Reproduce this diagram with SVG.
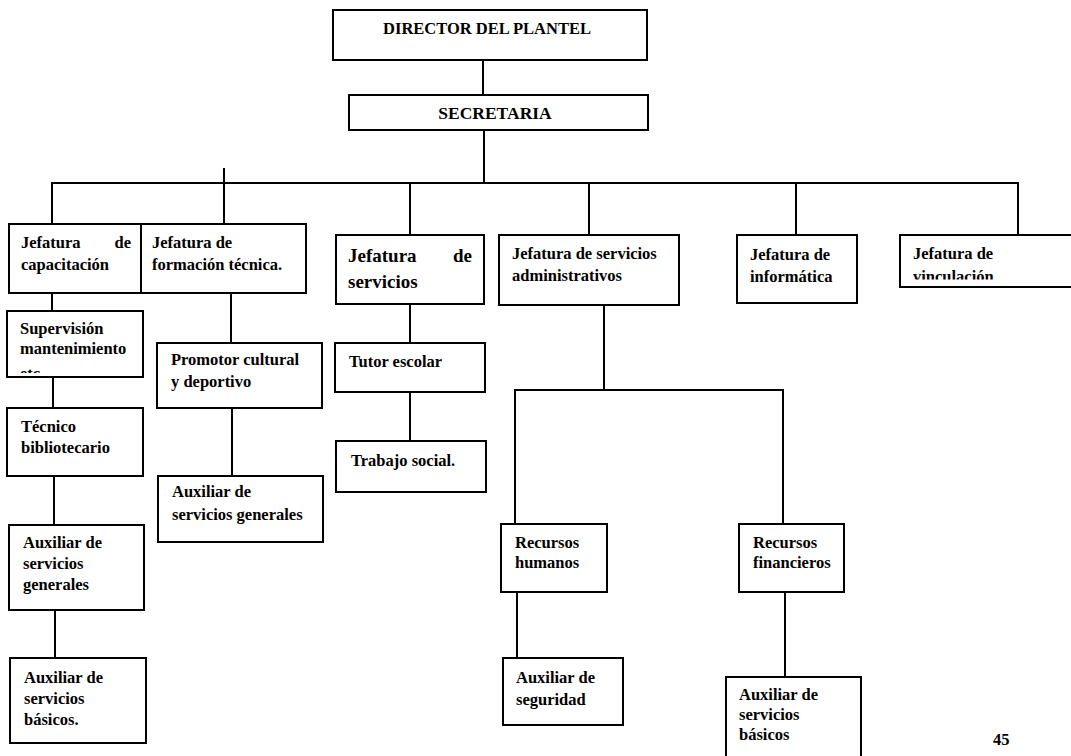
<svg xmlns="http://www.w3.org/2000/svg" width="1071" height="756" viewBox="0 0 1071 756">
<style>
.box{fill:#fff;stroke:#000;stroke-width:2}
.t{font-family:"Liberation Serif","Times New Roman",serif;font-weight:bold;font-size:16.5px;fill:#000}
.big{font-size:19px}
.title{font-size:16.5px}
.c line{stroke:#000;stroke-width:2;fill:none}
</style>
<defs>
<clipPath id="clipSup"><rect x="7" y="311" width="136" height="62"/></clipPath>
<clipPath id="clipVin"><rect x="900" y="235" width="171" height="44.5"/></clipPath>
</defs>
<rect width="1071" height="756" fill="#fff"/>
<g class="c" id="connectors">
<line x1="483" y1="60" x2="483" y2="95"/>
<line x1="484" y1="130" x2="484" y2="183"/>
<line x1="51" y1="183" x2="1019" y2="183"/>
<line x1="224" y1="168" x2="224" y2="224"/>
<line x1="52" y1="183" x2="52" y2="224"/>
<line x1="410" y1="183" x2="410" y2="235"/>
<line x1="589" y1="183" x2="589" y2="235"/>
<line x1="796" y1="183" x2="796" y2="235"/>
<line x1="1018" y1="183" x2="1018" y2="235"/>
<line x1="52" y1="293" x2="52" y2="311"/>
<line x1="53" y1="377" x2="53" y2="408"/>
<line x1="54" y1="476" x2="54" y2="525"/>
<line x1="55" y1="610" x2="55" y2="658"/>
<line x1="231" y1="293" x2="231" y2="343"/>
<line x1="232" y1="408" x2="232" y2="476"/>
<line x1="410" y1="304" x2="410" y2="343"/>
<line x1="410" y1="392" x2="410" y2="441"/>
<line x1="604" y1="305" x2="604" y2="390"/>
<line x1="514" y1="390" x2="784" y2="390"/>
<line x1="515" y1="390" x2="515" y2="524"/>
<line x1="783" y1="390" x2="783" y2="524"/>
<line x1="517" y1="592" x2="517" y2="658"/>
<line x1="785" y1="592" x2="785" y2="677"/>
</g>
<g id="director">
<rect class="box" x="333" y="10" width="314" height="50"/>
<text class="t title" x="487" y="34" text-anchor="middle">DIRECTOR DEL PLANTEL</text>
</g>
<g id="secretaria">
<rect class="box" x="349" y="95" width="299" height="35"/>
<text class="t title" x="495" y="119" text-anchor="middle" style="font-size:17.5px">SECRETARIA</text>
</g>
<g id="jef-capacitacion">
<rect class="box" x="9" y="224" width="132" height="69"/>
<text class="t" x="21" y="248">Jefatura</text>
<text class="t" x="131" y="248" text-anchor="end">de</text>
<text class="t" x="21" y="270">capacitación</text>
</g>
<g id="jef-formacion">
<rect class="box" x="141" y="224" width="165" height="69"/>
<text class="t" x="152" y="248">Jefatura de</text>
<text class="t" x="152" y="270">formación técnica.</text>
</g>
<g id="jef-servicios">
<rect class="box" x="336" y="235" width="148" height="69"/>
<text class="t big" x="348" y="262">Jefatura</text>
<text class="t big" x="472" y="262" text-anchor="end">de</text>
<text class="t big" x="348" y="288">servicios</text>
</g>
<g id="jef-admin">
<rect class="box" x="499" y="235" width="180" height="70"/>
<text class="t" x="512" y="259">Jefatura de servicios</text>
<text class="t" x="512" y="281">administrativos</text>
</g>
<g id="jef-informatica">
<rect class="box" x="737" y="235" width="120" height="68"/>
<text class="t" x="750" y="260">Jefatura de</text>
<text class="t" x="750" y="282">informática</text>
</g>
<g id="jef-vinculacion">
<rect class="box" x="900" y="235" width="180" height="52"/>
<text class="t" x="913" y="259">Jefatura de</text>
<text class="t" x="913" y="282" clip-path="url(#clipVin)">vinculación</text>
</g>
<g id="supervision">
<rect class="box" x="7" y="311" width="136" height="66"/>
<text class="t" x="20" y="334">Supervisión</text>
<text class="t" x="20" y="354">mantenimiento</text>
<text class="t" x="20" y="379" clip-path="url(#clipSup)">etc.</text>
</g>
<g id="tecnico">
<rect class="box" x="7" y="408" width="136" height="68"/>
<text class="t" x="21" y="432">Técnico</text>
<text class="t" x="21" y="453">bibliotecario</text>
</g>
<g id="aux-generales-1">
<rect class="box" x="9" y="525" width="135" height="85"/>
<text class="t" x="23" y="548">Auxiliar de</text>
<text class="t" x="23" y="569">servicios</text>
<text class="t" x="23" y="590">generales</text>
</g>
<g id="aux-basicos-1">
<rect class="box" x="10" y="658" width="136" height="85"/>
<text class="t" x="24" y="683">Auxiliar de</text>
<text class="t" x="24" y="704">servicios</text>
<text class="t" x="24" y="725">básicos.</text>
</g>
<g id="promotor">
<rect class="box" x="157" y="343" width="165" height="65"/>
<text class="t" x="171" y="365">Promotor cultural</text>
<text class="t" x="171" y="387">y deportivo</text>
</g>
<g id="aux-generales-2">
<rect class="box" x="158" y="476" width="165" height="66"/>
<text class="t" x="172" y="497">Auxiliar de</text>
<text class="t" x="172" y="520">servicios generales</text>
</g>
<g id="tutor">
<rect class="box" x="335" y="343" width="150" height="49"/>
<text class="t" x="349" y="367">Tutor escolar</text>
</g>
<g id="trabajo">
<rect class="box" x="336" y="441" width="150" height="51"/>
<text class="t" x="351" y="466">Trabajo social.</text>
</g>
<g id="rrhh">
<rect class="box" x="501" y="524" width="106" height="68"/>
<text class="t" x="515" y="548">Recursos</text>
<text class="t" x="515" y="568">humanos</text>
</g>
<g id="aux-seguridad">
<rect class="box" x="503" y="658" width="120" height="67"/>
<text class="t" x="516" y="683">Auxiliar de</text>
<text class="t" x="516" y="705">seguridad</text>
</g>
<g id="rrff">
<rect class="box" x="739" y="524" width="105" height="68"/>
<text class="t" x="753" y="548">Recursos</text>
<text class="t" x="753" y="568">financieros</text>
</g>
<g id="aux-basicos-2">
<rect class="box" x="726" y="677" width="135" height="90"/>
<text class="t" x="739" y="700">Auxiliar de</text>
<text class="t" x="739" y="720">servicios</text>
<text class="t" x="739" y="740">básicos</text>
</g>
<text class="t" x="993" y="745">45</text>
</svg>
